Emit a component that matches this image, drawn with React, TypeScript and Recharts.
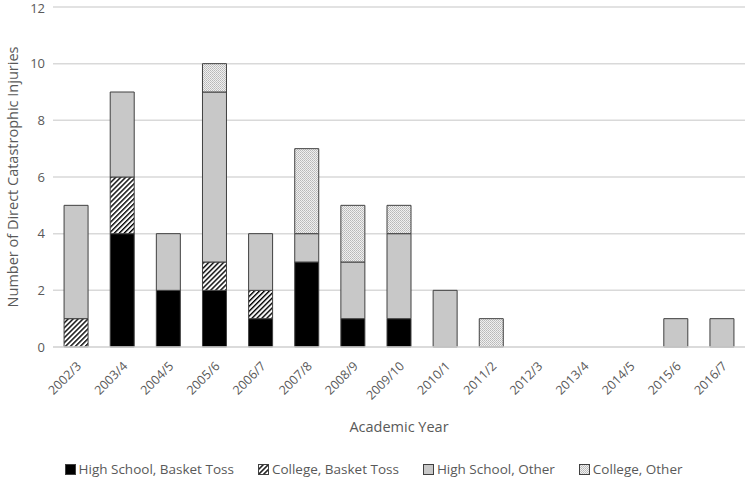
import React from "react"
import { Bar, BarChart, CartesianGrid, XAxis, YAxis, Legend } from "recharts"

const years = [
    "2002/3", "2003/4", "2004/5", "2005/6", "2006/7", "2007/8", "2008/9", "2009/10",
    "2010/1", "2011/2", "2012/3", "2013/4", "2014/5", "2015/6", "2016/7",
]
const hsBasketToss = [0, 4, 2, 2, 1, 3, 1, 1, 0, 0, 0, 0, 0, 0, 0]
const collegeBasketToss = [1, 2, 0, 1, 1, 0, 0, 0, 0, 0, 0, 0, 0, 0, 0]
const hsOther = [4, 3, 2, 6, 2, 1, 2, 3, 2, 0, 0, 0, 0, 1, 1]
const collegeOther = [0, 0, 0, 1, 0, 3, 2, 1, 0, 1, 0, 0, 0, 0, 0]
const yTicks = [0, 2, 4, 6, 8, 10, 12]

const data = years.map((year, i) => ({
    year,
    hsbt: hsBasketToss[i],
    cbt: collegeBasketToss[i],
    hso: hsOther[i],
    co: collegeOther[i],
}))

const font = "Open Sans, sans-serif"
const textColor = "#595959"

const series = [
    { key: "hsbt", name: "High School, Basket Toss", fill: "#000000" },
    { key: "cbt", name: "College, Basket Toss", fill: "url(#hatch)" },
    { key: "hso", name: "High School, Other", fill: "#c8c8c8" },
    { key: "co", name: "College, Other", fill: "url(#dots)" },
]

function YearTick({ x, y, payload }: any) {
    return (
        <text
            x={x + 6}
            y={y + 12}
            textAnchor="end"
            fontSize={12.5}
            fontFamily={font}
            fill={textColor}
            transform={`rotate(-45 ${x + 6} ${y + 12})`}
        >
            {payload.value}
        </text>
    )
}

function LegendContent() {
    return (
        <div style={{ display: "flex", justifyContent: "center", gap: 24, fontFamily: font, fontSize: 13.5, color: textColor, lineHeight: "18px", marginLeft: 2 }}>
            {series.map(s => (
                <div key={s.key} style={{ display: "flex", alignItems: "center", gap: 3 }}>
                    <svg width={11} height={11}>
                        <rect x={0.5} y={0.5} width={10} height={10} fill={s.fill} stroke="#404040" strokeWidth={1} />
                    </svg>
                    <span>{s.name}</span>
                </div>
            ))}
        </div>
    )
}

export default function App() {
    return (
        <div style={{ position: "absolute", left: 0, top: 0, width: 752, height: 483, background: "#fff" }}>
            <BarChart
                width={752}
                height={483}
                data={data}
                margin={{ top: 7, right: 7, left: 0, bottom: 2 }}
                barCategoryGap="24%"
            >
                <defs>
                    <pattern id="hatch" patternUnits="userSpaceOnUse" width={3.5} height={3.5} patternTransform="rotate(45)">
                        <rect width={3.5} height={3.5} fill="#fff" />
                        <rect width={1.4} height={3.5} fill="#000" />
                    </pattern>
                    <pattern id="dots" patternUnits="userSpaceOnUse" width={2} height={2}>
                        <rect width={2} height={2} fill="#f0f0f0" />
                        <rect width={1} height={1} fill="#b8b8b8" />
                        <rect x={1} y={1} width={1} height={1} fill="#c4c4c4" />
                    </pattern>
                </defs>
                <CartesianGrid vertical={false} stroke="#d9d9d9" strokeWidth={1.5} />
                <XAxis
                    dataKey="year"
                    height={113}
                    interval={0}
                    tickLine={false}
                    axisLine={{ stroke: "#d9d9d9", strokeWidth: 1.5 }}
                    tick={<YearTick />}
                    label={{ value: "Academic Year", position: "insideBottom", offset: 28, fill: textColor, fontSize: 14.5, fontFamily: font }}
                />
                <YAxis
                    width={53}
                    domain={[0, 12]}
                    ticks={yTicks}
                    tickLine={false}
                    axisLine={false}
                    tick={{ fill: textColor, fontSize: 13, fontFamily: font }}
                    label={{ value: "Number of Direct Catastrophic Injuries", angle: -90, position: "insideLeft", offset: 13, style: { textAnchor: "middle" }, fill: textColor, fontSize: 14.5, fontFamily: font }}
                />
                <Legend verticalAlign="bottom" height={21} content={<LegendContent />} />
                {series.map(s => (
                    <Bar
                        key={s.key}
                        dataKey={s.key}
                        name={s.name}
                        stackId="a"
                        fill={s.fill}
                        stroke="#404040"
                        strokeWidth={1}
                        isAnimationActive={false}
                    />
                ))}
            </BarChart>
        </div>
    )
}
